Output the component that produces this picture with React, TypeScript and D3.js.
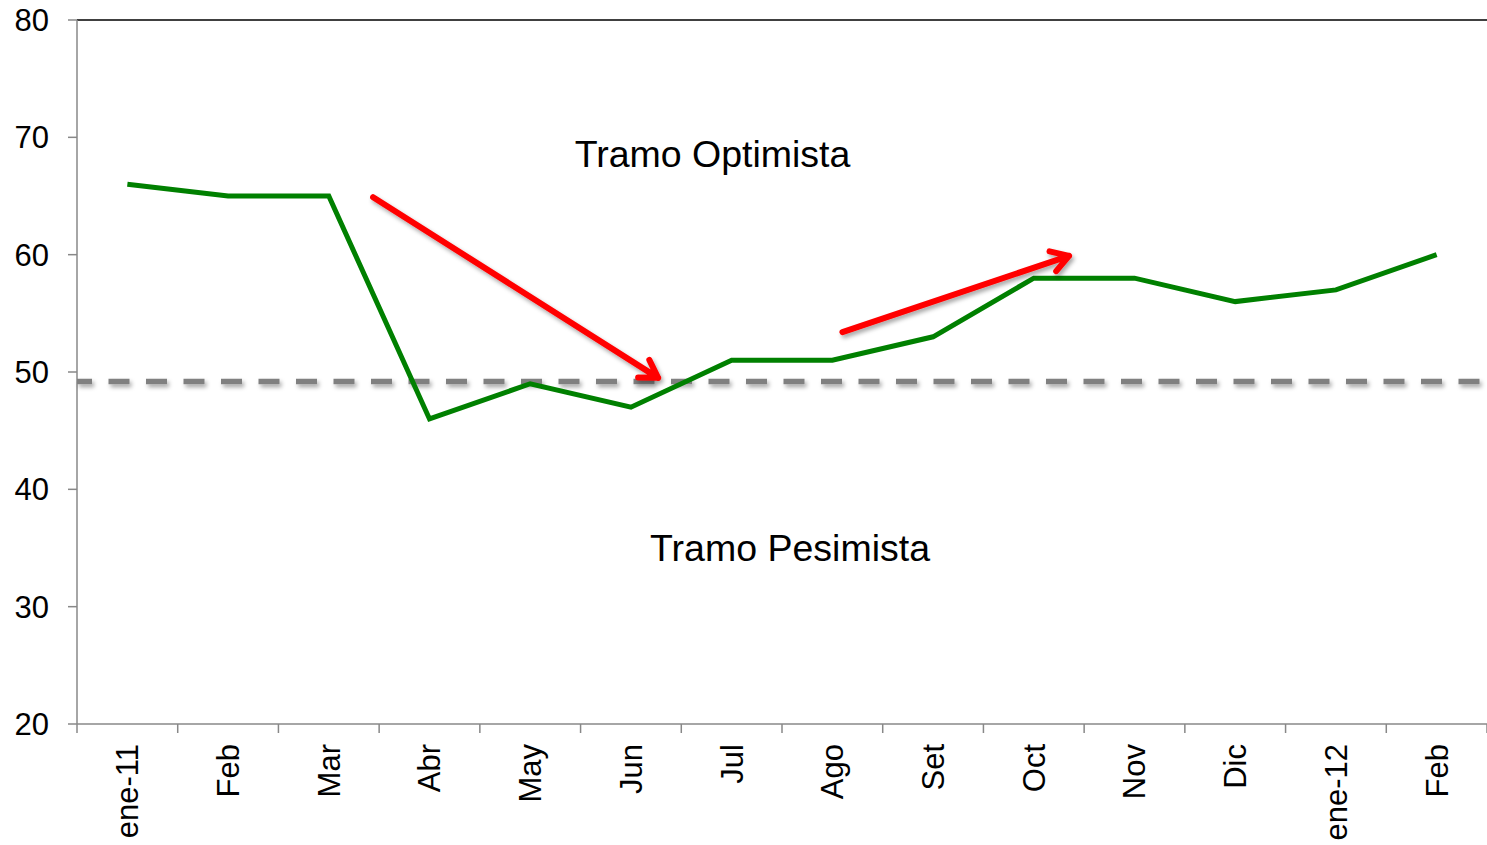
import React from "react";
import * as d3 from "d3";

const categories = ["ene-11", "Feb", "Mar", "Abr", "May", "Jun", "Jul", "Ago", "Set", "Oct", "Nov", "Dic", "ene-12", "Feb"];
const values = [66, 65, 65, 46, 49, 47, 51, 51, 53, 58, 58, 56, 57, 60];
const yTicks = [20, 30, 40, 50, 60, 70, 80];
const thresholdValue = 49.2;
// arrows: [startIndex, startValue, endIndex, endValue]
const arrows = [
  [2.44, 64.9, 5.27, 49.5],
  [7.1, 53.4, 9.35, 59.9],
];
const labels = [
  { text: "Tramo Optimista", idx: 5.81, value: 68.6 },
  { text: "Tramo Pesimista", idx: 6.58, value: 35.0 },
];

const W = 1487, H = 845;
const M = { left: 77, right: 0, top: 20, bottom: 121 };

export default function App() {
  const x = d3.scaleBand<number>().domain(d3.range(categories.length)).range([M.left, W - M.right]);
  const cx = (i: number) => M.left + x.bandwidth() * (i + 0.5);
  const y = d3.scaleLinear().domain([20, 80]).range([H - M.bottom, M.top]);
  const line = d3.line<number>().x((_, i) => cx(i)).y((v) => y(v));
  const font = "'Liberation Sans', Arial, sans-serif";
  const bottom = H - M.bottom;

  const arrowPath = (a: number[]) => {
    const x1 = cx(a[0]), y1 = y(a[1]), x2 = cx(a[2]), y2 = y(a[3]);
    const ang = Math.atan2(y2 - y1, x2 - x1);
    const L = 20, sp = 0.55;
    const p1 = [x2 - L * Math.cos(ang - sp), y2 - L * Math.sin(ang - sp)];
    const p2 = [x2 - L * Math.cos(ang + sp), y2 - L * Math.sin(ang + sp)];
    return `M${x1},${y1}L${x2},${y2}M${p1[0]},${p1[1]}L${x2},${y2}L${p2[0]},${p2[1]}`;
  };

  return (
    <svg width={W} height={H} style={{ position: "absolute", left: 0, top: 0, background: "#fff" }} fontFamily={font}>
      <defs>
        <filter id="sh" filterUnits="userSpaceOnUse" x={0} y={0} width={W} height={H}>
          <feDropShadow dx="2" dy="3" stdDeviation="2" floodColor="#000" floodOpacity="0.35" />
        </filter>
      </defs>
      {/* axes */}
      <line x1={M.left} x2={W} y1={M.top} y2={M.top} stroke="#000" strokeWidth={1.5} />
      <line x1={M.left} x2={M.left} y1={M.top} y2={bottom} stroke="#888" strokeWidth={1.5} />
      <line x1={M.left} x2={W} y1={bottom} y2={bottom} stroke="#888" strokeWidth={1.5} />
      {yTicks.map((t) => (
        <g key={t}>
          <line x1={M.left - 9} x2={M.left} y1={y(t)} y2={y(t)} stroke="#888" strokeWidth={1.5} />
          <text x={49} y={y(t)} dy="0.35em" textAnchor="end" fontSize={31} fill="#000">{t}</text>
        </g>
      ))}
      {d3.range(categories.length + 1).map((i) => (
        <line key={i} x1={M.left + i * x.bandwidth()} x2={M.left + i * x.bandwidth()} y1={bottom} y2={bottom + 9} stroke="#888" strokeWidth={1.5} />
      ))}
      {categories.map((c, i) => (
        <text key={i} transform={`translate(${cx(i)},${bottom + 20}) rotate(-90)`} textAnchor="end" dy="0.35em" fontSize={31} fill="#000">{c}</text>
      ))}
      {/* threshold */}
      <line x1={M.left} x2={W} y1={y(thresholdValue)} y2={y(thresholdValue)} stroke="#808080" strokeWidth={5.5} strokeDasharray="21 16.5" strokeDashoffset={6} filter="url(#sh)" />
      {/* series */}
      <path d={line(values) || ""} fill="none" stroke="#008000" strokeWidth={5} strokeLinejoin="miter" />
      {/* arrows */}
      {arrows.map((a, i) => (
        <path key={i} d={arrowPath(a)} fill="none" stroke="#ff0000" strokeWidth={6} strokeLinecap="round" strokeLinejoin="round" filter="url(#sh)" />
      ))}
      {labels.map((l, i) => (
        <text key={i} x={cx(l.idx)} y={y(l.value)} textAnchor="middle" dy="0.35em" fontSize={37.5} fill="#000">{l.text}</text>
      ))}
    </svg>
  );
}
